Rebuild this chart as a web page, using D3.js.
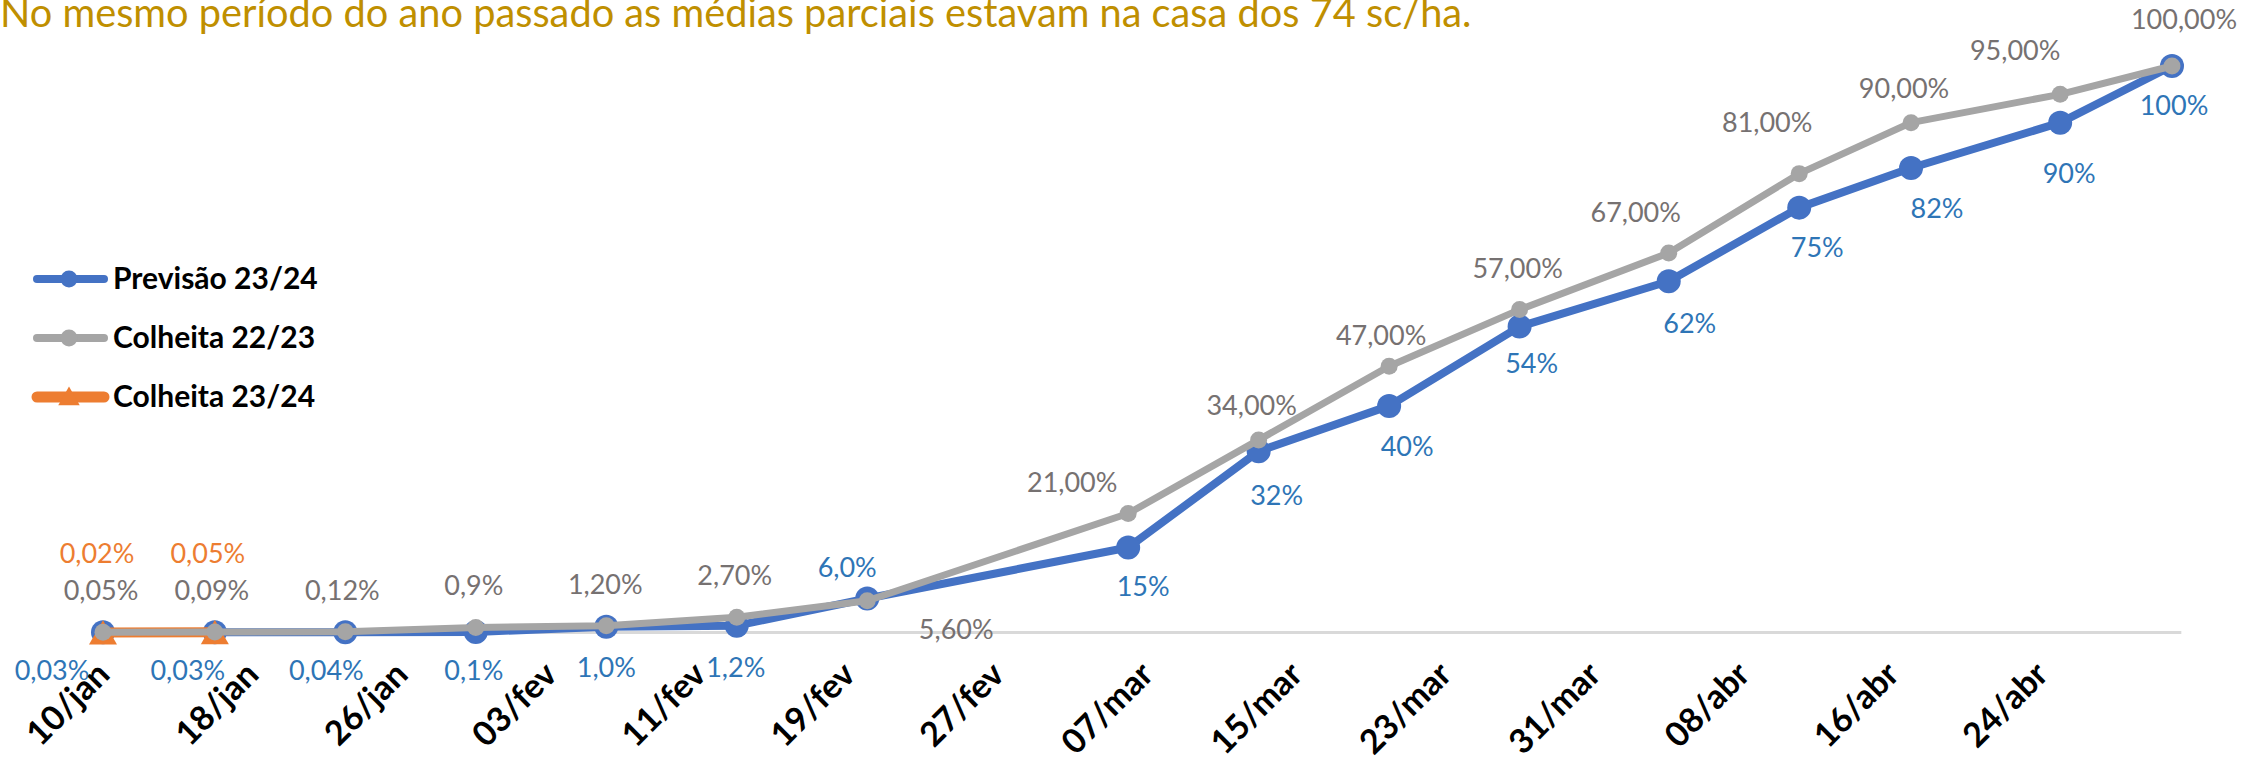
<!DOCTYPE html>
<html>
<head>
<meta charset="utf-8">
<script src="https://cdn.jsdelivr.net/npm/d3@7"></script>
<style>
  body { margin: 0; background: #fff; overflow: hidden; }
  svg { display: block; }
</style>
</head>
<body>
<div id="chart"></div>
<script>
// weekly points (date axis, base unit = day)
var pointDates = ["2023-01-10", "2023-01-16", "2023-01-23", "2023-01-30", "2023-02-06", "2023-02-13", "2023-02-20",
  "2023-03-06", "2023-03-13", "2023-03-20", "2023-03-27", "2023-04-04", "2023-04-11", "2023-04-17", "2023-04-25", "2023-05-01"];

var previsao = [0.03, 0.03, 0.04, 0.1, 1.0, 1.2, 6.0, 15, 32, 40, 54, 62, 75, 82, 90, 100];
var previsaoLabels = ["0,03%", "0,03%", "0,04%", "0,1%", "1,0%", "1,2%", "6,0%", "15%", "32%", "40%", "54%", "62%", "75%", "82%", "90%", "100%"];

var colheita2223 = [0.05, 0.09, 0.12, 0.9, 1.2, 2.7, 5.6, 21, 34, 47, 57, 67, 81, 90, 95, 100];
var colheita2223Labels = ["0,05%", "0,09%", "0,12%", "0,9%", "1,20%", "2,70%", "5,60%", "21,00%", "34,00%", "47,00%", "57,00%", "67,00%", "81,00%", "90,00%", "95,00%", "100,00%"];

var colheita2324Dates = ["2023-01-10", "2023-01-16"];
var colheita2324 = [0.02, 0.05];
var colheita2324Labels = ["0,02%", "0,05%"];

var tickDates = ["2023-01-10", "2023-01-18", "2023-01-26", "2023-02-03", "2023-02-11", "2023-02-19", "2023-02-27",
  "2023-03-07", "2023-03-15", "2023-03-23", "2023-03-31", "2023-04-08", "2023-04-16", "2023-04-24"];
var tickLabels = ["10/jan", "18/jan", "26/jan", "03/fev", "11/fev", "19/fev", "27/fev",
  "07/mar", "15/mar", "23/mar", "31/mar", "08/abr", "16/abr", "24/abr"];

var titleText = "No mesmo período do ano passado as médias parciais estavam na casa dos 74 sc/ha.";

// data label nudges (labels were dragged around in the original)
var blueNudge = [[-51,48],[-27,48],[-19,48],[-2,48],[0,50],[-1,51],[-20,-22],[15,48],[18,54],[18,50],[12,46],[21,52],[18,49],[26,50],[9,60],[2,49]];
var grayNudge = [[-2,-32],[-3,-32],[-3,-32],[-2,-32],[-1,-32],[-2,-32],[89,38],[-56,-22],[-7,-25],[-8,-21],[-2,-32],[-33,-31],[-32,-42],[-7,-25],[-45,-34],[12,-37]];
var orangeNudge = [[-6,-69],[-7,-69]];

var width = 2252,
    height = 771;

var parse = d3.timeParse("%Y-%m-%d");
var blue = "#4472C4", gray = "#A5A5A5", orange = "#ED7D31";

var svg = d3.select("#chart")
    .append("svg")
    .attr("width", width)
    .attr("height", height);

var x = d3.scaleTime()
    .domain([parse(pointDates[0]), parse(pointDates[pointDates.length - 1])])
    .range([103, 2172]);

var y = d3.scaleLinear()
    .domain([0, 100])
    .range([632.5, 66]);

var halfDay = (x(parse("2023-01-11")) - x(parse("2023-01-10"))) / 2;

// title
var title = svg.append("text")
    .attr("x", 0)
    .attr("y", 27)
    .style("font-family", "Lato")
    .style("font-size", "34px")
    .style("fill", "#BF8F00")
    .text(titleText);
var tw = title.node().getComputedTextLength();
title.style("font-size", (34 * 1472 / tw) + "px");

// horizontal axis line
svg.append("line")
    .attr("x1", x(parse(pointDates[0])) - halfDay)
    .attr("x2", x(parse(pointDates[pointDates.length - 1])) + halfDay)
    .attr("y1", y(0))
    .attr("y2", y(0))
    .attr("stroke", "#D9D9D9")
    .attr("stroke-width", 3);

// x axis labels
var tickMap = {};
tickDates.forEach(function (d, i) { tickMap[+parse(d)] = tickLabels[i]; });

var xAxis = d3.axisBottom(x)
    .tickValues(tickDates.map(parse))
    .tickSize(0)
    .tickFormat(function (d) { return tickMap[+d]; });

var gx = svg.append("g")
    .attr("transform", "translate(0," + y(0) + ")")
    .call(xAxis);
gx.select(".domain").remove();
gx.selectAll("text")
    .attr("x", 0)
    .attr("y", 0)
    .attr("dy", null)
    .attr("text-anchor", "end")
    .attr("transform", "translate(8,44) rotate(-45)")
    .style("font-family", "Lato")
    .style("font-weight", "bold")
    .style("font-size", "34px")
    .style("fill", "#000");

function makeSeries(dates, values) {
  return values.map(function (v, i) { return { date: parse(dates[i]), value: v, i: i }; });
}

var blueData = makeSeries(pointDates, previsao);
var grayData = makeSeries(pointDates, colheita2223);
var orangeData = makeSeries(colheita2324Dates, colheita2324);

var line = d3.line()
    .x(function (d) { return x(d.date); })
    .y(function (d) { return y(d.value); });

// Previsão 23/24
svg.append("path")
    .datum(blueData)
    .attr("d", line)
    .attr("fill", "none")
    .attr("stroke", blue)
    .attr("stroke-width", 8)
    .attr("stroke-linejoin", "round");
svg.selectAll(".dot-blue")
    .data(blueData)
    .enter().append("circle")
    .attr("class", "dot-blue")
    .attr("cx", function (d) { return x(d.date); })
    .attr("cy", function (d) { return y(d.value); })
    .attr("r", 12)
    .attr("fill", blue);

// Colheita 23/24
svg.append("path")
    .datum(orangeData)
    .attr("d", line)
    .attr("fill", "none")
    .attr("stroke", orange)
    .attr("stroke-width", 10);
svg.selectAll(".tri")
    .data(orangeData)
    .enter().append("path")
    .attr("class", "tri")
    .attr("d", d3.symbol(d3.symbolTriangle, 340))
    .attr("transform", function (d) { return "translate(" + x(d.date) + "," + (y(d.value) + 4) + ")"; })
    .attr("fill", orange);

// Colheita 22/23
svg.append("path")
    .datum(grayData)
    .attr("d", line)
    .attr("fill", "none")
    .attr("stroke", gray)
    .attr("stroke-width", 7)
    .attr("stroke-linejoin", "round");
svg.selectAll(".dot-gray")
    .data(grayData)
    .enter().append("circle")
    .attr("class", "dot-gray")
    .attr("cx", function (d) { return x(d.date); })
    .attr("cy", function (d) { return y(d.value); })
    .attr("r", 8.5)
    .attr("fill", gray);

// data labels
function addLabels(data, labels, nudge, color) {
  svg.append("g").selectAll("text")
      .data(data)
      .enter().append("text")
      .attr("x", function (d) { return x(d.date) + nudge[d.i][0]; })
      .attr("y", function (d) { return y(d.value) + nudge[d.i][1]; })
      .attr("text-anchor", "middle")
      .style("font-family", "Lato")
      .style("font-size", "27px")
      .style("fill", color)
      .text(function (d) { return labels[d.i]; });
}
addLabels(blueData, previsaoLabels, blueNudge, "#2E75B6");
addLabels(grayData, colheita2223Labels, grayNudge, "#767171");
addLabels(orangeData, colheita2324Labels, orangeNudge, orange);

// legend
var legendItems = [
  { name: "Previsão 23/24", color: blue, width: 8, marker: "circle" },
  { name: "Colheita 22/23", color: gray, width: 8, marker: "circle" },
  { name: "Colheita 23/24", color: orange, width: 11, marker: "triangle" }
];

var legend = svg.selectAll(".legend")
    .data(legendItems)
    .enter().append("g")
    .attr("class", "legend")
    .attr("transform", function (d, i) { return "translate(0," + (279 + i * 59) + ")"; });

legend.append("line")
    .attr("x1", 37)
    .attr("x2", 104)
    .attr("stroke", function (d) { return d.color; })
    .attr("stroke-width", function (d) { return d.width; })
    .attr("stroke-linecap", "round");
legend.filter(function (d) { return d.marker === "circle"; })
    .append("circle")
    .attr("cx", 69)
    .attr("r", 8.5)
    .attr("fill", function (d) { return d.color; });
legend.filter(function (d) { return d.marker === "triangle"; })
    .append("path")
    .attr("d", d3.symbol(d3.symbolTriangle, 200))
    .attr("transform", "translate(69,2)")
    .attr("fill", function (d) { return d.color; });
legend.append("text")
    .attr("x", 113)
    .attr("y", 10)
    .style("font-family", "Lato")
    .style("font-weight", "bold")
    .style("font-size", "30px")
    .style("fill", "#000")
    .text(function (d) { return d.name; });
</script>
</body>
</html>
